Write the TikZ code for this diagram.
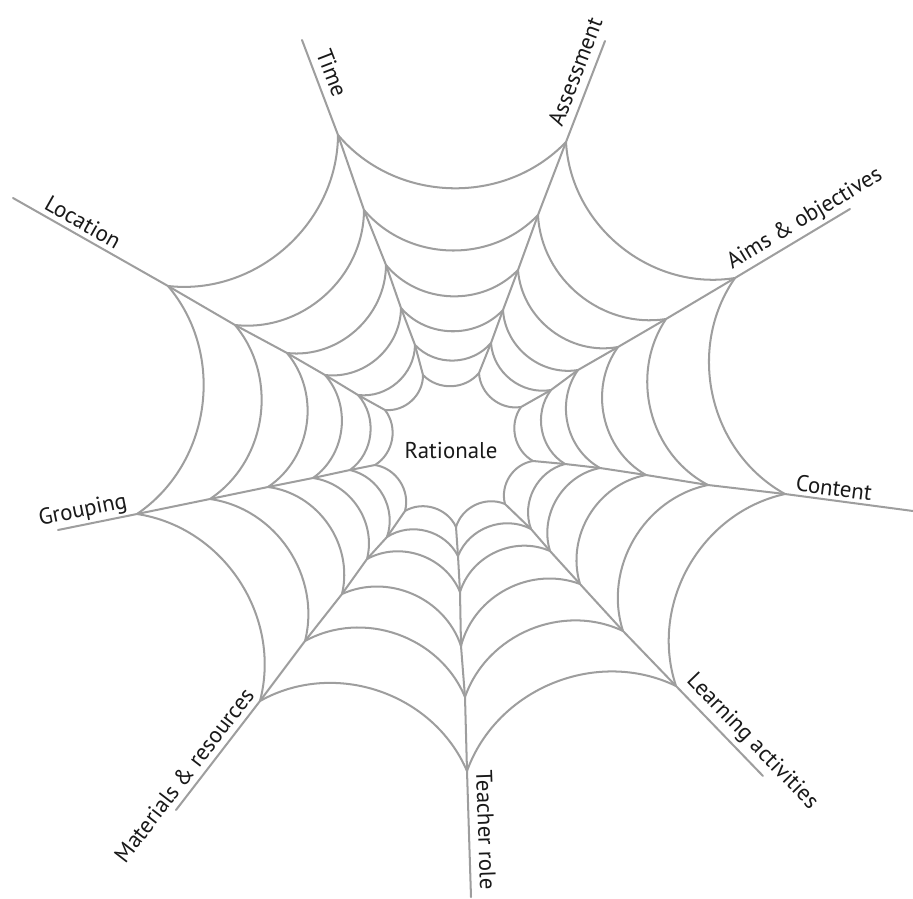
\documentclass[tikz,border=0pt]{standalone}
\usepackage{fontspec}
\setmainfont{PT Sans}
\definecolor{webgray}{RGB}{158,158,158}
\begin{document}
\begin{tikzpicture}[x=0.02cm,y=-0.02cm,
  web/.style={draw=webgray, line width=1.15pt, line join=round, line cap=round},
  lbl/.style={font=\fontsize{13}{15}\selectfont, inner sep=0pt, text=black!90}]
\useasboundingbox (0,0) rectangle (913,899);
% spoke vertices: 0 = outer end, 1..6 = ring vertices (outer to inner)
\coordinate (T0) at (302,40);  \coordinate (T1) at (338,135); \coordinate (T2) at (364,210);
\coordinate (T3) at (386,265); \coordinate (T4) at (401,308); \coordinate (T5) at (415,345); \coordinate (T6) at (423,375);
\coordinate (A0) at (605,41);  \coordinate (A1) at (566,142); \coordinate (A2) at (538,215);
\coordinate (A3) at (518,270); \coordinate (A4) at (503,310); \coordinate (A5) at (491,343); \coordinate (A6) at (479,373);
\coordinate (O0) at (850,209); \coordinate (O1) at (735,278); \coordinate (O2) at (666,319);
\coordinate (O3) at (618,347); \coordinate (O4) at (578,370); \coordinate (O5) at (551,390); \coordinate (O6) at (521,407);
\coordinate (C0) at (913,511); \coordinate (C1) at (785,494); \coordinate (C2) at (708,485);
\coordinate (C3) at (646,475); \coordinate (C4) at (600,468); \coordinate (C5) at (565,464); \coordinate (C6) at (533,461);
\coordinate (L0) at (763,776); \coordinate (L1) at (676,686); \coordinate (L2) at (623,631);
\coordinate (L3) at (580,584); \coordinate (L4) at (550,551); \coordinate (L5) at (531,529); \coordinate (L6) at (505,504);
\coordinate (R0) at (471,897); \coordinate (R1) at (467,771); \coordinate (R2) at (465,697);
\coordinate (R3) at (461,646); \coordinate (R4) at (460,592); \coordinate (R5) at (458,556); \coordinate (R6) at (456,527);
\coordinate (M0) at (176,810); \coordinate (M1) at (260,701); \coordinate (M2) at (305,641);
\coordinate (M3) at (342,594); \coordinate (M4) at (367,559); \coordinate (M5) at (387,537); \coordinate (M6) at (405,511);
\coordinate (G0) at (58,530);  \coordinate (G1) at (137,514); \coordinate (G2) at (210,499);
\coordinate (G3) at (268,487); \coordinate (G4) at (313,478); \coordinate (G5) at (350,470); \coordinate (G6) at (375,465);
\coordinate (N0) at (13,198);  \coordinate (N1) at (168,286); \coordinate (N2) at (235,325);
\coordinate (N3) at (287,353); \coordinate (N4) at (325,375); \coordinate (N5) at (358,395); \coordinate (N6) at (385,410);
% spokes
\foreach \s in {T,A,O,C,L,R,M,G,N}
  \draw[web] (\s0) -- (\s1) -- (\s2) -- (\s3) -- (\s4) -- (\s5) -- (\s6);
% rings
\foreach \a/\b in {T/A,A/O,O/C,C/L,L/R,R/M,M/G,G/N,N/T}
  \foreach \k in {1,...,6}
    \draw[web] (\a\k) to[bend right=48] (\b\k);
% labels
\node[lbl] (rat) at (451,451) {Rationale};
\node[lbl, rotate=-69] (time) at (332,73) {Time};
\node[lbl, rotate=69] (ass) at (575,72) {Assessment};
\node[lbl, rotate=31] (aims) at (805,219) {Aims \& objectives};
\node[lbl, rotate=-7.6] (cont) at (834,488) {Content};
\node[lbl, rotate=-46] (learn) at (752,742) {Learning activities};
\node[lbl, rotate=-88] (teach) at (486,830) {Teacher role};
\node[lbl, rotate=52.4] (mat) at (184,775) {Materials \& resources};
\node[lbl, rotate=11.5] (grp) at (83,511) {Grouping};
\node[lbl, rotate=-29.6] (loc) at (83,222) {Location};
\end{tikzpicture}
\end{document}
